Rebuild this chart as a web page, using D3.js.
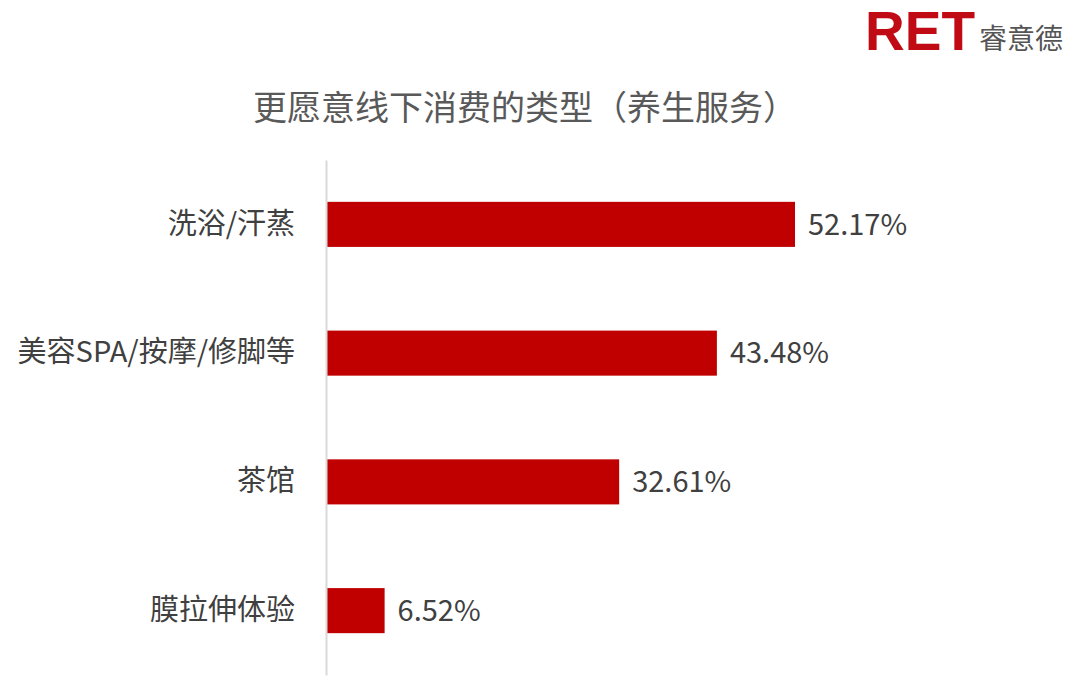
<!DOCTYPE html>
<html><head><meta charset="utf-8">
<script src="https://cdn.jsdelivr.net/npm/d3@7"></script>
<style>body{margin:0;background:#fff;}svg{display:block;}</style>
</head><body>
<script>
const categories = ["洗浴/汗蒸", "美容SPA/按摩/修脚等", "茶馆", "膜拉伸体验"];
const values = [52.17, 43.48, 32.61, 6.52];
const valueLabels = ["52.17%", "43.48%", "32.61%", "6.52%"];
const title = "更愿意线下消费的类型（养生服务）";

const W = 1069, H = 698;
const font = "'Noto Sans CJK SC', 'Open Sans', sans-serif";
const svg = d3.select("body").append("svg").attr("width", W).attr("height", H);

const x = d3.scaleLinear().domain([0, 60]).range([326, 326 + 539.4]);
const y = d3.scaleBand().domain(categories).range([160, 675]).paddingInner(0.65).paddingOuter(0.325);

// logo
svg.append("text").attr("x", 865).attr("y", 50).attr("fill", "#c00a14")
  .attr("font-family", "'Liberation Sans', Arial, sans-serif").attr("font-weight", "bold")
  .attr("font-size", 56).attr("textLength", 110).attr("lengthAdjust", "spacingAndGlyphs").text("RET");
svg.append("text").attr("x", 979).attr("y", 49).attr("fill", "#555")
  .attr("font-family", font).attr("font-size", 28).text("睿意德");

// title
svg.append("text").attr("x", 525).attr("y", 120).attr("text-anchor", "middle")
  .attr("fill", "#595959").attr("font-family", font).attr("font-size", 34).text(title);

// bars
svg.selectAll("rect.bar").data(values).join("rect").attr("class", "bar")
  .attr("x", x(0)).attr("y", (d, i) => y(categories[i]))
  .attr("width", d => x(d) - x(0)).attr("height", y.bandwidth())
  .attr("fill", "#c00000");

// value labels
svg.selectAll("text.val").data(values).join("text").attr("class", "val")
  .attr("x", d => x(d) + 13).attr("y", (d, i) => y(categories[i]) + y.bandwidth() / 2)
  .attr("dy", "0.35em").attr("fill", "#404040").attr("font-family", font).attr("font-size", 29)
  .text((d, i) => valueLabels[i]);

// axis
const axis = d3.axisLeft(y).tickSize(0).tickPadding(31);
const g = svg.append("g").attr("transform", `translate(${x(0)},0)`).call(axis);
g.select(".domain").attr("stroke", "#d9d9d9").attr("stroke-width", 2);
g.selectAll("text").attr("fill", "#404040").attr("font-family", font).attr("font-size", 29);
</script>
</body></html>
